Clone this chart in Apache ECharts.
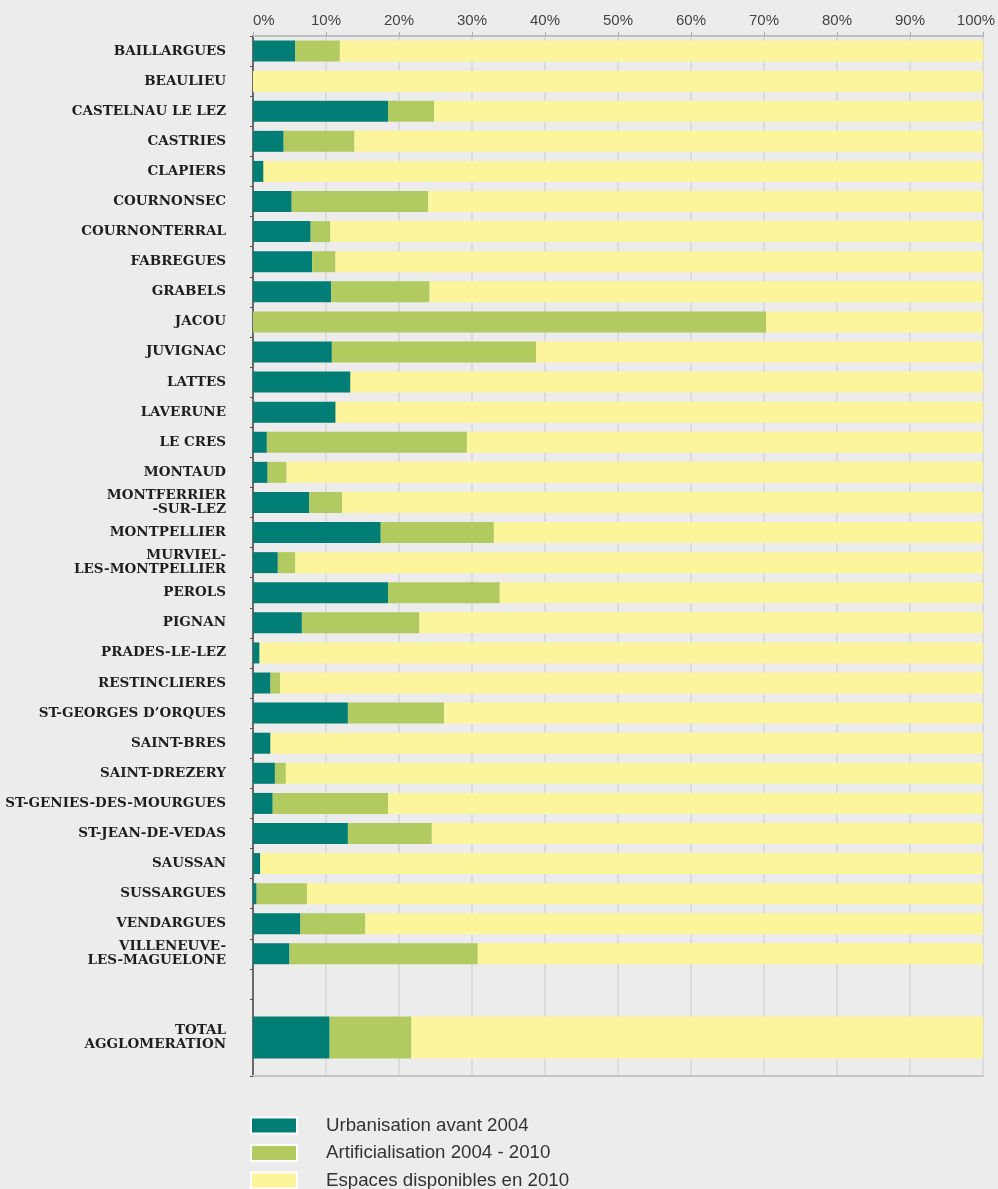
<!DOCTYPE html>
<html>
<head>
<meta charset="utf-8">
<script src="https://cdn.jsdelivr.net/npm/echarts@6/dist/echarts.min.js"></script>
<style>
  html, body { margin: 0; padding: 0; background: #ececec; }
  #chart { width: 998px; height: 1189px; }
</style>
</head>
<body>
<div id="chart"></div>
<script>
const communes = [
  'BAILLARGUES', 'BEAULIEU', 'CASTELNAU LE LEZ', 'CASTRIES', 'CLAPIERS',
  'COURNONSEC', 'COURNONTERRAL', 'FABREGUES', 'GRABELS', 'JACOU',
  'JUVIGNAC', 'LATTES', 'LAVERUNE', 'LE CRES', 'MONTAUD',
  'MONTFERRIER\n-SUR-LEZ', 'MONTPELLIER', 'MURVIEL-\nLES-MONTPELLIER', 'PEROLS', 'PIGNAN',
  'PRADES-LE-LEZ', 'RESTINCLIERES', 'ST-GEORGES D\u2019ORQUES', 'SAINT-BRES', 'SAINT-DREZERY',
  'ST-GENIES-DES-MOURGUES', 'ST-JEAN-DE-VEDAS', 'SAUSSAN', 'SUSSARGUES', 'VENDARGUES',
  'VILLENEUVE-\nLES-MAGUELONE'
]
const urbanisation = [
  5.8, 0, 18.5, 4.2, 1.4, 5.3, 7.9, 8.1, 10.7, 0,
  10.8, 13.3, 11.3, 1.9, 2.0, 7.7, 17.5, 3.4, 18.5, 6.7,
  0.9, 2.4, 13.0, 2.4, 3.0, 2.7, 13.0, 1.0, 0.5, 6.5,
  5.0
]
const artificialisation = [
  6.1, 0, 6.3, 9.7, 0.1, 18.7, 2.7, 3.2, 13.5, 70.3,
  28.0, 0.1, 0.1, 27.4, 2.6, 4.5, 15.5, 2.4, 15.3, 16.1,
  0, 1.3, 13.2, 0, 1.5, 15.8, 11.5, 0, 6.9, 8.9,
  25.8
]
const disponibles = [
  88.1, 100, 75.2, 86.1, 98.5, 76.0, 89.4, 88.7, 75.8, 29.7,
  61.2, 86.6, 88.6, 70.7, 95.4, 87.8, 67.0, 94.2, 66.2, 77.2,
  99.1, 96.3, 73.8, 97.6, 95.5, 81.5, 75.5, 99.0, 92.6, 84.6,
  69.2
]
const totalLabel = ['TOTAL\nAGGLOMERATION']
const totalValues = [10.5, 11.2, 78.3]
const seriesNames = ['Urbanisation avant 2004', 'Artificialisation 2004 - 2010', 'Espaces disponibles en 2010']
const colors = ['#007d74', '#b2cb60', '#fdf59b']

const chart = echarts.init(document.getElementById('chart'))

const yLabel = {
  fontFamily: 'DejaVu Serif',
  fontWeight: 'bold',
  fontSize: 13.5,
  lineHeight: 14,
  color: '#1e1e1e',
  margin: 27
}
const splitLine = { show: true, lineStyle: { color: '#d6d6d6', width: 1.5 } }

const perCommune = [urbanisation, artificialisation, disponibles]
const series = []
seriesNames.forEach((name, i) => {
  series.push({
    name,
    type: 'bar',
    stack: 'a',
    barWidth: 21,
    xAxisIndex: 0,
    yAxisIndex: 0,
    itemStyle: { color: colors[i] },
    data: perCommune[i]
  })
  series.push({
    name,
    type: 'bar',
    stack: 'b',
    barWidth: 42,
    xAxisIndex: 1,
    yAxisIndex: 1,
    itemStyle: { color: colors[i] },
    data: [totalValues[i]]
  })
})

const option = {
  backgroundColor: '#ececec',
  animation: false,
  grid: [
    { left: 253, right: 15, top: 36, height: 963, outerBoundsMode: 'none' },
    { left: 253, right: 15, top: 999, height: 77, outerBoundsMode: 'none' }
  ],
  xAxis: [
    {
      gridIndex: 0,
      type: 'value',
      position: 'top',
      min: 0,
      max: 100,
      interval: 10,
      axisLine: { show: true, lineStyle: { color: '#bdbdbd', width: 2 } },
      axisTick: { show: true, length: 4, lineStyle: { color: '#aaa' } },
      axisLabel: {
        margin: 8,
        fontFamily: 'Liberation Sans',
        fontSize: 15,
        color: '#444',
        alignMinLabel: 'left',
        formatter: v => v === 100 ? '{m|100%}' : v + '%',
        rich: { m: { fontFamily: 'Liberation Sans', fontSize: 15, color: '#444', padding: [0, 14, 0, 0] } }
      },
      splitLine
    },
    {
      gridIndex: 1,
      type: 'value',
      position: 'bottom',
      min: 0,
      max: 100,
      interval: 10,
      axisLine: { show: true, lineStyle: { color: '#c4c4c4', width: 2 } },
      axisTick: { show: false },
      axisLabel: { show: false },
      splitLine
    }
  ],
  yAxis: [
    {
      gridIndex: 0,
      type: 'category',
      inverse: true,
      data: communes.concat(['']),
      axisLine: { show: true, lineStyle: { color: '#6a6a6a', width: 2 } },
      axisTick: { show: true, length: 3, lineStyle: { color: '#555' } },
      axisLabel: yLabel
    },
    {
      gridIndex: 1,
      type: 'category',
      inverse: true,
      data: totalLabel,
      axisLine: { show: true, lineStyle: { color: '#6a6a6a', width: 2 } },
      axisTick: { show: true, length: 3, lineStyle: { color: '#555' } },
      axisLabel: yLabel
    }
  ],
  legend: {
    orient: 'vertical',
    left: 250,
    top: 1116,
    height: 80,
    padding: 0,
    itemWidth: 46,
    itemHeight: 16,
    itemGap: 8.5,
    icon: 'rect',
    data: seriesNames,
    itemStyle: { borderColor: '#ffffff', borderWidth: 2 },
    textStyle: {
      fontFamily: 'Liberation Sans',
      fontSize: 18.7,
      color: '#333',
      padding: [0, 0, 0, 24]
    }
  },
  series
}

chart.setOption(option)
</script>
</body>
</html>
